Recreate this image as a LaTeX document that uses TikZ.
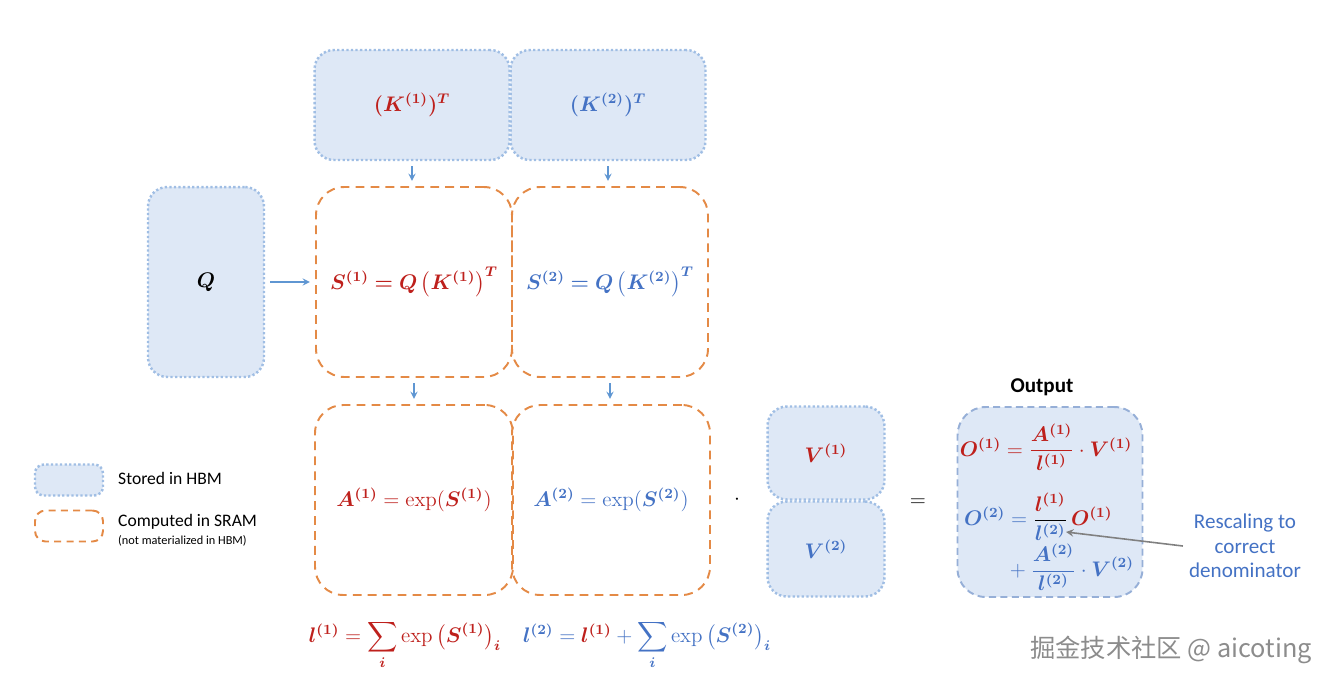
\documentclass[tikz,border=0pt]{standalone}
\usepackage{amsmath, bm}
\usepackage[no-math]{fontspec}
\setmainfont{Carlito}
\newfontfamily\cjkfont{Noto Sans CJK SC}
\usepackage{tikz}

\definecolor{redtxt}{RGB}{190,32,28}
\definecolor{bluetxt}{RGB}{68,114,196}
\definecolor{hbmfill}{RGB}{222,232,246}
\definecolor{hbmline}{RGB}{160,190,228}
\definecolor{sramline}{RGB}{228,138,70}
\definecolor{outline}{RGB}{150,175,215}
\definecolor{flowblue}{RGB}{95,150,210}

\begin{document}
\begin{tikzpicture}[>=stealth, x=0.02cm, y=-0.02cm,
  hbm/.style={draw=hbmline, fill=hbmfill, line width=1.4pt, dash pattern=on 1.3pt off 1.3pt, rounded corners=11pt, inner sep=0pt},
  sram/.style={draw=sramline, line width=1.1pt, dash pattern=on 5pt off 3.5pt, rounded corners=16pt, inner sep=0pt},
  outbox/.style={draw=outline, fill=hbmfill, line width=1.1pt, dash pattern=on 4pt off 2.5pt, rounded corners=16pt, inner sep=0pt},
  flow/.style={->, draw=flowblue, line width=0.8pt, shorten <=3pt, shorten >=3pt},
  fml/.style={font=\large}]
  \useasboundingbox (0,0) rectangle (1332,687);

  % K blocks in HBM
  \node[hbm, fml, minimum width=3.9cm, minimum height=2.2cm, text=redtxt] (k1) at (412,105) {$\bm{(K^{(1)})^{T}}$};
  \node[hbm, fml, minimum width=3.9cm, minimum height=2.2cm, text=bluetxt] (k2) at (608,105) {$\bm{(K^{(2)})^{T}}$};

  % Q block
  \node[hbm, fml, minimum width=2.32cm, minimum height=3.8cm] (q) at (206,282) {$\bm{Q}$};

  % score blocks (SRAM)
  \node[sram, fml, minimum width=3.92cm, minimum height=3.8cm, text=redtxt] (s1) at (414,282) {$\bm{S^{(1)} = Q\left(K^{(1)}\right)^{T}}$};
  \node[sram, fml, minimum width=3.92cm, minimum height=3.8cm, text=bluetxt] (s2) at (610,282) {$\bm{S^{(2)} = Q\left(K^{(2)}\right)^{T}}$};

  % exp blocks (SRAM)
  \node[sram, fml, minimum width=3.96cm, minimum height=3.8cm, text=redtxt] (a1) at (414,500) {$\bm{A^{(1)}} = \exp(\bm{S^{(1)}})$};
  \node[sram, fml, minimum width=3.96cm, minimum height=3.8cm, text=bluetxt] (a2) at (611,500) {$\bm{A^{(2)}} = \exp(\bm{S^{(2)}})$};

  % arrows
  \draw[flow] (k1.south) -- (k1.south |- s1.north);
  \draw[flow] (k2.south) -- (k2.south |- s2.north);
  \draw[flow] (q.east) -- (s1.west);
  \draw[flow] (s1.south) -- (s1.south |- a1.north);
  \draw[flow] (s2.south) -- (s2.south |- a2.north);

  % times V
  \node[fml] (dot) at (737,500) {$\cdot$};
  \node[hbm, fml, minimum width=2.34cm, minimum height=1.86cm, text=redtxt] (v1) at (826,453) {$\bm{V^{(1)}}$};
  \node[hbm, fml, minimum width=2.34cm, minimum height=1.9cm, text=bluetxt] (v2) at (826,549) {$\bm{V^{(2)}}$};
  \node[fml] (eq) at (918,503) {$=$};

  % output block
  \node[font=\large\bfseries] (outlbl) at (1042,387) {Output};
  \node[outbox, minimum width=3.7cm, minimum height=3.8cm] (out) at (1050,502) {};
  \node[fml, text=redtxt] (o1) at (1046,447) {$\bm{O^{(1)}} = \dfrac{\bm{A^{(1)}}}{\bm{l^{(1)}}}\cdot\bm{V^{(1)}}$};
  \node[fml, text=bluetxt] (o2) at (1049,542) {$\begin{aligned}\bm{O^{(2)}} &= {\color{black}\dfrac{\color{redtxt}\bm{l^{(1)}}}{\color{bluetxt}\bm{l^{(2)}}}}\,{\color{redtxt}\bm{O^{(1)}}}\\[-2pt] &{}+\dfrac{\bm{A^{(2)}}}{\bm{l^{(2)}}}\cdot\bm{V^{(2)}}\end{aligned}$};
  \coordinate (lden) at (1066,532);

  % note on rescaling
  \node[font=\large, text=bluetxt, align=center] (resc) at (1245,546) {Rescaling to\\correct\\denominator};
  \draw[->, black!50, line width=0.9pt] (resc.west) -- (lden);

  % running sums
  \node[fml, text=redtxt] (l1) at (405,645) {$\bm{l^{(1)}} = \displaystyle\sum_{\bm{i}}\exp\left(\bm{S^{(1)}}\right)_{\bm{i}}$};
  \node[fml, text=bluetxt] (l2) at (647,645) {$\bm{l^{(2)}} = {\color{redtxt}\bm{l^{(1)}}} + \displaystyle\sum_{\bm{i}}\exp\left(\bm{S^{(2)}}\right)_{\bm{i}}$};

  % legend
  \node[hbm, minimum width=1.36cm, minimum height=0.62cm, rounded corners=5pt] (lhbm) at (69,480) {};
  \node[anchor=west] (lhbmtxt) at (112,478) {Stored in HBM};
  \node[sram, minimum width=1.36cm, minimum height=0.62cm, rounded corners=6pt, dash pattern=on 4pt off 3pt] (lsram) at (69,526) {};
  \node[anchor=west] (lsramtxt) at (112,522) {Computed in SRAM};
  \node[anchor=west, font=\scriptsize] (lsramsub) at (112,541) {(not materialized in HBM)};

  % watermark
  \node[font=\cjkfont\Large, text=black!45] (mark) at (1171,650) {掘金技术社区 @ aicoting};
\end{tikzpicture}
\end{document}
